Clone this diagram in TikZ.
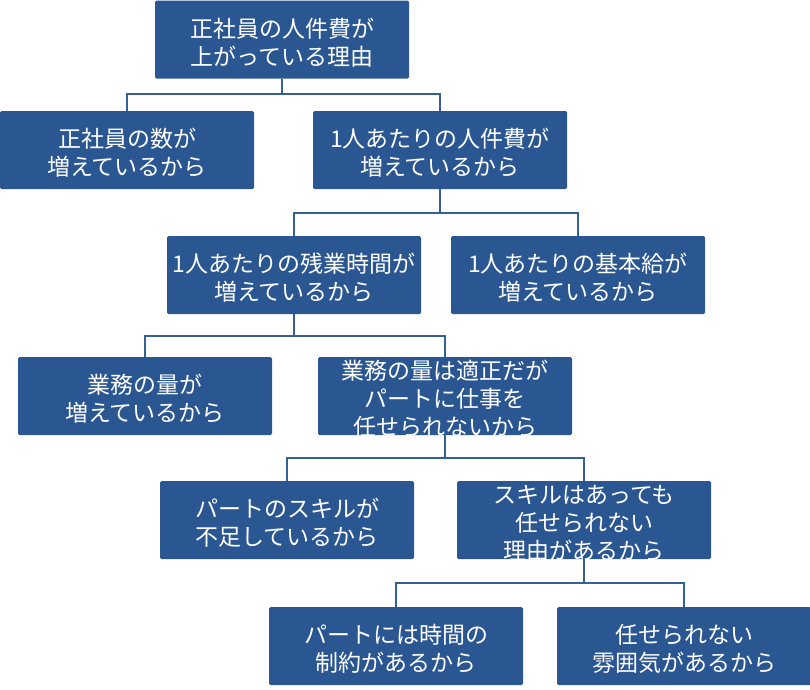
\documentclass[tikz,border=0pt]{standalone}
\usepackage{fontspec}
\newfontfamily\jp{Noto Sans CJK JP}
\definecolor{boxblue}{RGB}{42,86,146}
\definecolor{lineblue}{RGB}{52,96,152}
\begin{document}
\begin{tikzpicture}[x=1pt,y=-1pt,
  box/.style={fill=boxblue, draw=none, rounded corners=1.5pt, minimum width=254pt, minimum height=78pt,
    inner sep=0pt},
  lbl/.style={inner sep=0pt, text=white, align=center, yshift=-3pt, font=\jp\fontsize{23pt}{28pt}\selectfont},
  conn/.style={draw=lineblue, line width=2pt}]
\useasboundingbox (0,0) rectangle (810,689);
\node[box] (b1)  at (282,39.5) {};
\node[box] (b2)  at (127,150) {};
\node[box] (b3)  at (440,150) {};
\node[box] (b4)  at (294,275) {};
\node[box] (b5)  at (578,275) {};
\node[box] (b6)  at (145,396) {};
\node[box] (b7)  at (445,396) {};
\node[box] (b8)  at (287,520) {};
\node[box] (b9)  at (584,520) {};
\node[box] (b10) at (396,646) {};
\node[box] (b11) at (684,646) {};
\node[lbl] (t1)  at (b1)  {正社員の人件費が\\上がっている理由};
\node[lbl] (t2)  at (b2)  {正社員の数が\\増えているから};
\node[lbl] (t3)  at (b3)  {1人あたりの人件費が\\増えているから};
\node[lbl] (t4)  at (b4)  {1人あたりの残業時間が\\増えているから};
\node[lbl] (t5)  at (b5)  {1人あたりの基本給が\\増えているから};
\node[lbl] (t6)  at (b6)  {業務の量が\\増えているから};
\node[lbl] (t7)  at (b7)  {業務の量は適正だが\\パートに仕事を\\任せられないから};
\node[lbl] (t8)  at (b8)  {パートのスキルが\\不足しているから};
\node[lbl] (t9)  at (b9)  {スキルはあっても\\任せられない\\理由があるから};
\node[lbl] (t10) at (b10) {パートには時間の\\制約があるから};
\node[lbl] (t11) at (b11) {任せられない\\雰囲気があるから};
\coordinate (j1) at (282,94);
\coordinate (j2) at (440,213);
\coordinate (j3) at (294,336);
\coordinate (j4) at (445,458);
\coordinate (j5) at (584,583);
\draw[conn] (b1.south) -- (j1);
\draw[conn] (b2.north) |- (j1) -| (b3.north);
\draw[conn] (b3.south) -- (j2);
\draw[conn] (b4.north) |- (j2) -| (b5.north);
\draw[conn] (b4.south) -- (j3);
\draw[conn] (b6.north) |- (j3) -| (b7.north);
\draw[conn] (b7.south) -- (j4);
\draw[conn] (b8.north) |- (j4) -| (b9.north);
\draw[conn] (b9.south) -- (j5);
\draw[conn] (b10.north) |- (j5) -| (b11.north);
\end{tikzpicture}
\end{document}
